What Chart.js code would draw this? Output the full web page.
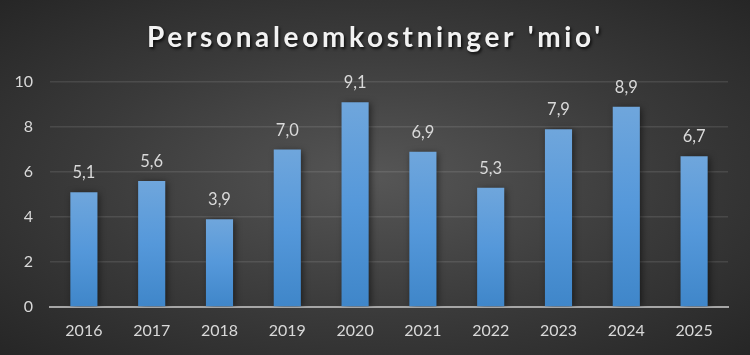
<!DOCTYPE html>
<html>
<head>
<meta charset="utf-8">
<script src="https://cdn.jsdelivr.net/npm/chart.js@4.4.1/dist/chart.umd.min.js"></script>
<style>
  html, body { margin: 0; padding: 0; background: #2a2a2a; }
  #wrap { width: 750px; height: 355px; position: relative;
    background: radial-gradient(ellipse farthest-corner at 50% 50%, #565656 0%, #3a3a3a 55%, #262626 100%); }
  canvas { display: block; }
</style>
</head>
<body>
<div id="wrap"><canvas id="c" width="750" height="355"></canvas></div>
<script>
const titleText = "Personaleomkostninger 'mio'";
const categories = ["2016","2017","2018","2019","2020","2021","2022","2023","2024","2025"];
const values = [5.1, 5.6, 3.9, 7.0, 9.1, 6.9, 5.3, 7.9, 8.9, 6.7];
const yTicks = [0, 2, 4, 6, 8, 10];

const FONT = "Lato, 'Open Sans', sans-serif";
const textColor = "#d9d9d9";

const titlePlugin = {
  id: 'titlePlugin',
  afterDraw(chart) {
    const ctx = chart.ctx;
    ctx.save();
    ctx.font = "bold 28px " + FONT;
    ctx.fillStyle = "#f2f2f2";
    ctx.textAlign = "left";
    ctx.textBaseline = "alphabetic";
    ctx.letterSpacing = "0px";
    const w = ctx.measureText(titleText).width;
    const sp = Math.max(0, (453 - w) / (titleText.length - 1));
    ctx.letterSpacing = sp.toFixed(2) + "px";
    ctx.shadowColor = "rgba(0,0,0,0.75)";
    ctx.shadowBlur = 3;
    ctx.shadowOffsetX = 1.5;
    ctx.shadowOffsetY = 1.5;
    ctx.fillText(titleText, 147, 47);
    ctx.restore();
  }
};

const shadowPlugin = {
  id: 'shadowPlugin',
  beforeDatasetsDraw(chart) {
    const ctx = chart.ctx;
    ctx.save();
    ctx.shadowColor = "rgba(0,0,0,0.55)";
    ctx.shadowBlur = 7;
    ctx.shadowOffsetX = 2;
    ctx.shadowOffsetY = 1;
  },
  afterDatasetsDraw(chart) {
    chart.ctx.restore();
  }
};

const labelPlugin = {
  id: 'labelPlugin',
  afterDatasetsDraw(chart) {
    const ctx = chart.ctx;
    const meta = chart.getDatasetMeta(0);
    ctx.save();
    ctx.font = "16.5px " + FONT;
    ctx.fillStyle = textColor;
    ctx.textAlign = "center";
    ctx.textBaseline = "alphabetic";
    meta.data.forEach((bar, i) => {
      const v = chart.data.datasets[0].data[i];
      ctx.fillText(v.toFixed(1).replace('.', ','), bar.x, bar.y - 14);
    });
    ctx.restore();
  }
};

function barGradient(context) {
  const chart = context.chart;
  const area = chart.chartArea;
  if (!area || context.raw === undefined) return "#5b9bd5";
  const ys = chart.scales.y;
  const top = ys.getPixelForValue(context.raw);
  const bottom = ys.getPixelForValue(0);
  const g = chart.ctx.createLinearGradient(0, top, 0, bottom);
  g.addColorStop(0, "#6fa6dc");
  g.addColorStop(0.5, "#5598da");
  g.addColorStop(1, "#3f86c9");
  return g;
}

new Chart(document.getElementById('c'), {
  type: 'bar',
  data: {
    labels: categories,
    datasets: [{
      data: values,
      backgroundColor: barGradient,
      borderWidth: 0,
      barPercentage: 0.4,
      categoryPercentage: 1.0
    }]
  },
  options: {
    responsive: false,
    animation: false,
    devicePixelRatio: 1,
    layout: { padding: { top: 82, right: 22, left: 0, bottom: 0 } },
    plugins: { legend: { display: false }, tooltip: { enabled: false }, title: { display: false } },
    scales: {
      x: {
        grid: { display: false, drawTicks: false },
        border: { display: true, color: "#a6a6a6", width: 2 },
        ticks: { color: textColor, font: { family: FONT, size: 16 }, padding: 14 },
        afterFit(scale) { scale.height = 48; }
      },
      y: {
        min: 0, max: 10,
        afterBuildTicks(scale) { scale.ticks = yTicks.map(v => ({ value: v })); },
        grid: { color: "rgba(255,255,255,0.1)", lineWidth: 1.5, drawTicks: false },
        border: { display: false },
        ticks: { color: textColor, font: { family: FONT, size: 16 }, padding: 17 },
        afterFit(scale) { scale.width = 50; }
      }
    }
  },
  plugins: [shadowPlugin, labelPlugin, titlePlugin]
});
</script>
</body>
</html>
